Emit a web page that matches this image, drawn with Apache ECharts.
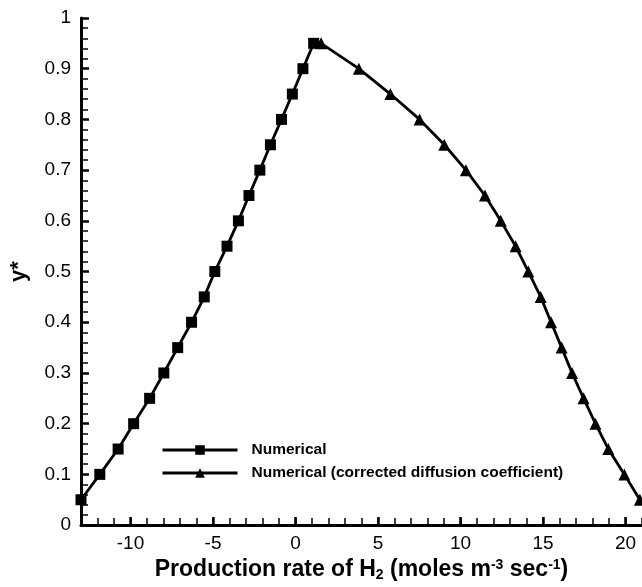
<!DOCTYPE html>
<html>
<head>
<meta charset="utf-8">
<script src="https://cdn.jsdelivr.net/npm/echarts@6/dist/echarts.min.js"></script>
<style>html,body{margin:0;padding:0;background:#fff}#c{width:642px;height:587px}</style>
</head>
<body>
<div id="c"></div>
<script>
// Data
const numX = [-13, -11.86, -10.75, -9.81, -8.84, -7.98, -7.14, -6.30, -5.53, -4.89, -4.15, -3.46, -2.82, -2.16, -1.52, -0.85, -0.19, 0.45, 1.1];
const numY = [0.05, 0.1, 0.15, 0.2, 0.25, 0.3, 0.35, 0.4, 0.45, 0.5, 0.55, 0.6, 0.65, 0.7, 0.75, 0.8, 0.85, 0.9, 0.95];
const corrX = [1.55, 3.84, 5.75, 7.52, 9.02, 10.33, 11.48, 12.44, 13.34, 14.11, 14.86, 15.49, 16.13, 16.76, 17.46, 18.18, 18.96, 19.93, 20.87];
const corrY = [0.95, 0.9, 0.85, 0.8, 0.75, 0.7, 0.65, 0.6, 0.55, 0.5, 0.45, 0.4, 0.35, 0.3, 0.25, 0.2, 0.15, 0.1, 0.05];
const xMajorTicks = [-10, -5, 0, 5, 10, 15, 20];
const xMinorTicks = [-13,-12,-11,-10,-9,-8,-7,-6,-5,-4,-3,-2,-1,0,1,2,3,4,5,6,7,8,9,10,11,12,13,14,15,16,17,18,19,20,21];
const seriesNames = ['Numerical', 'Numerical (corrected diffusion coefficient)'];

const font = 'Liberation Sans, Arial, sans-serif';
const chart = echarts.init(document.getElementById('c'));
chart.setOption({
  animation: false,
  backgroundColor: '#fff',
  grid: {left: 79, right: 0, top: 18, bottom: 55},
  legend: {
    orient: 'vertical', left: 161, top: 442, padding: 0, itemWidth: 75, itemHeight: 12, itemGap: 7,
    textStyle: {fontFamily: font, fontWeight: 'bold', fontSize: 15.5, color: '#000', padding: [0, 0, 0, 9]},
    lineStyle: {width: 3, color: '#000'},
    data: seriesNames
  },
  xAxis: [{
    type: 'value', min: -13, max: 21, position: 'bottom',
    axisLine: {show: true, onZero: false, lineStyle: {color: '#000', width: 3}},
    axisTick: {show: true, inside: true, length: 7, customValues: xMinorTicks, lineStyle: {color: '#000', width: 1.5}},
    axisLabel: {customValues: xMajorTicks, margin: 9, fontFamily: font, fontSize: 19, color: '#000'},
    splitLine: {show: false},
    name: 'Production rate of H{sub|2} (moles m{sup|-3} sec{sup|-1})',
    nameLocation: 'middle', nameGap: 28,
    nameTextStyle: {
      fontFamily: font, fontWeight: 'bold', fontSize: 23, color: '#000',
      rich: {
        sub: {fontFamily: font, fontWeight: 'bold', fontSize: 14, color: '#000', verticalAlign: 'bottom', padding: [10, 0, 0, 0]},
        sup: {fontFamily: font, fontWeight: 'bold', fontSize: 14, color: '#000', verticalAlign: 'top', padding: [0, 0, 10, 0]}
      }
    }
  }, {
    type: 'value', min: -13, max: 21, position: 'bottom',
    axisLine: {show: false, onZero: false},
    axisTick: {show: true, inside: true, length: 8, customValues: xMajorTicks, lineStyle: {color: '#000', width: 2.5}},
    axisLabel: {show: false},
    splitLine: {show: false}
  }],
  yAxis: {
    type: 'value', min: 0, max: 1, interval: 0.1, position: 'left',
    axisLine: {show: true, onZero: false, lineStyle: {color: '#000', width: 3}},
    axisTick: {show: true, inside: true, length: 8, lineStyle: {color: '#000', width: 2.5}},
    minorTick: {show: true, splitNumber: 5, length: 7, lineStyle: {color: '#000', width: 1.5}},
    axisLabel: {margin: 10, fontFamily: font, fontSize: 19, color: '#000'},
    splitLine: {show: false},
    name: 'y*', nameLocation: 'middle', nameGap: 51, nameRotate: 90,
    nameTextStyle: {fontFamily: font, fontWeight: 'bold', fontSize: 22, color: '#000'}
  },
  series: [{
    name: seriesNames[0], type: 'line', xAxisIndex: 0,
    data: numX.map((x, i) => [x, numY[i]]),
    symbol: 'rect', symbolSize: 11, showAllSymbol: true,
    lineStyle: {color: '#000', width: 2.8}, itemStyle: {color: '#000'}
  }, {
    name: seriesNames[1], type: 'line', xAxisIndex: 0,
    data: corrX.map((x, i) => [x, corrY[i]]),
    symbol: 'triangle', symbolSize: 12, showAllSymbol: true,
    lineStyle: {color: '#000', width: 2.8}, itemStyle: {color: '#000'}
  }]
});
</script>
</body>
</html>
